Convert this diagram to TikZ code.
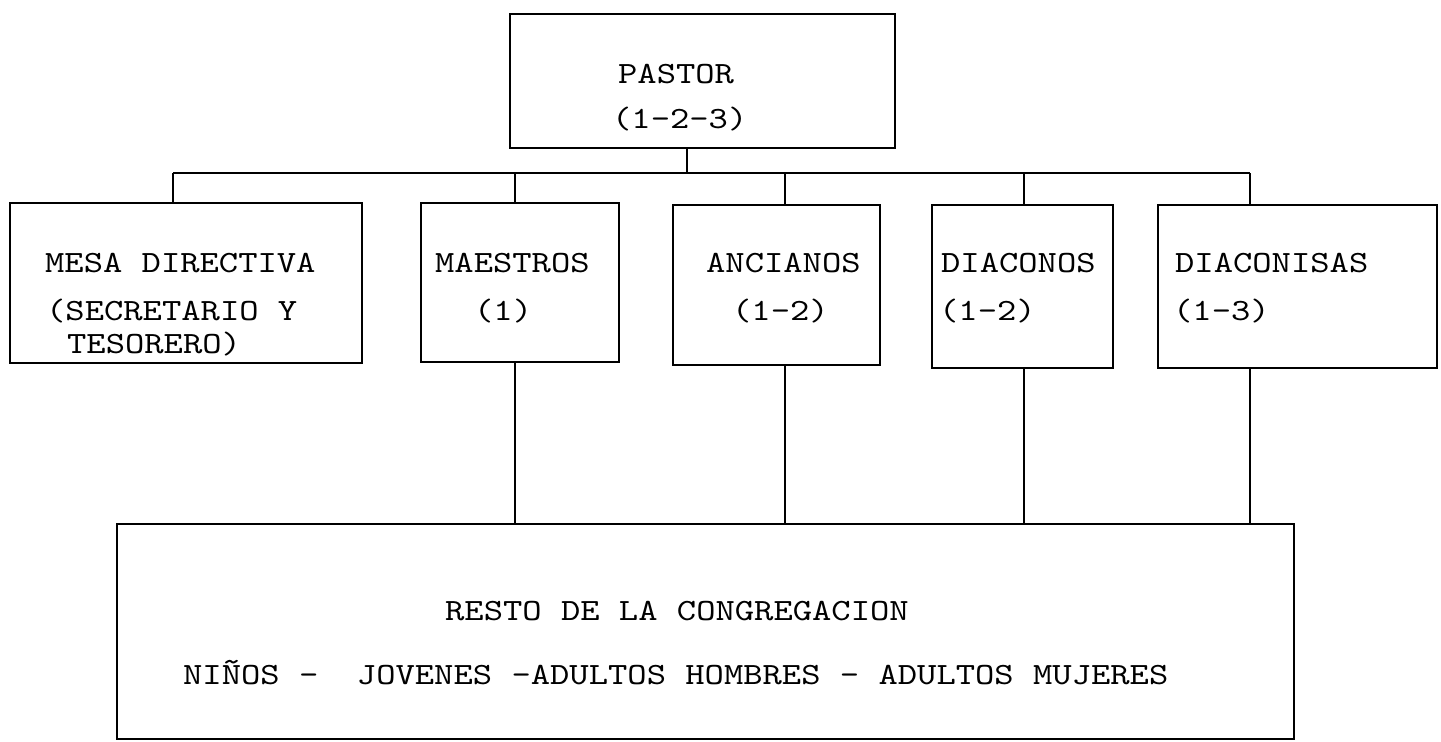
\documentclass[tikz,border=0pt]{standalone}
\usepackage{fontspec}
\setmonofont{lmmono10-regular.otf}[FakeStretch=1.19]
\usepackage{tikz}
\newcommand{\typer}{\ttfamily\fontsize{17.6}{21}\selectfont}

\begin{document}
\begin{tikzpicture}[x=0.02cm, y=-0.02cm, line width=1.3pt,
    box/.style={draw=black, rectangle, inner sep=0pt},
    txt/.style={anchor=base west, inner sep=0pt, font=\typer}]
  \useasboundingbox (0,0) rectangle (1441,741);

  % Boxes
  \node[box, minimum width=7.70cm, minimum height=2.68cm] (pastor) at (702.5,81) {};
  \node[box, minimum width=7.04cm, minimum height=3.20cm] (mesa) at (186,283) {};
  \node[box, minimum width=3.96cm, minimum height=3.18cm] (maestros) at (520,282.5) {};
  \node[box, minimum width=4.14cm, minimum height=3.20cm] (ancianos) at (776.5,285) {};
  \node[box, minimum width=3.62cm, minimum height=3.26cm] (diaconos) at (1022.5,286.5) {};
  \node[box, minimum width=5.58cm, minimum height=3.26cm] (diaconisas) at (1297.5,286.5) {};
  \node[box, minimum width=23.54cm, minimum height=4.30cm] (resto) at (705.5,631.5) {};

  % Labels
  \node[txt] (pastorA) at (617,83) {PASTOR};
  \node[txt] (pastorB) at (611,128) {(1-2-3)};
  \node[txt] (mesaA) at (44,272) {MESA DIRECTIVA};
  \node[txt] (mesaB) at (45,320) {(SECRETARIO Y};
  \node[txt] (mesaC) at (66,353) {TESORERO)};
  \node[txt] (maestrosA) at (434,272) {MAESTROS};
  \node[txt] (maestrosB) at (473,320) {(1)};
  \node[txt] (ancianosA) at (705,272) {ANCIANOS};
  \node[txt] (ancianosB) at (731,320) {(1-2)};
  \node[txt] (diaconosA) at (940,272) {DIACONOS};
  \node[txt] (diaconosB) at (938,320) {(1-2)};
  \node[txt] (diaconisasA) at (1174,272) {DIACONISAS};
  \node[txt] (diaconisasB) at (1172,320) {(1-3)};
  \node[txt] (restoA) at (444,620) {RESTO DE LA CONGREGACION};
  \node[txt] (restoB) at (182,684) {NIÑOS -~~JOVENES -ADULTOS HOMBRES - ADULTOS MUJERES};

  % Bus
  \coordinate (hub) at (687,173);
  \coordinate (b1) at (173,173);
  \coordinate (b2) at (515,173);
  \coordinate (b3) at (785,173);
  \coordinate (b4) at (1024,173);
  \coordinate (b5) at (1250,173);

  % Edges
  \draw (pastor.south -| hub) -- (hub);
  \draw (b1) -- (b5);
  \foreach \b/\n in {b1/mesa, b2/maestros, b3/ancianos, b4/diaconos, b5/diaconisas}
    \draw (\b) -- (\n.north -| \b);
  \foreach \b/\n in {b2/maestros, b3/ancianos, b4/diaconos, b5/diaconisas}
    \draw (\n.south -| \b) -- (resto.north -| \b);
\end{tikzpicture}
\end{document}
